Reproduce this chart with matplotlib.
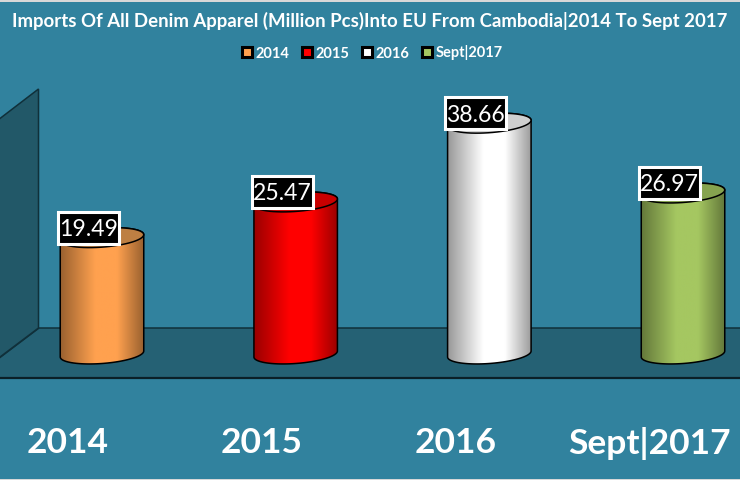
import numpy as np
import matplotlib
matplotlib.use('Agg')
import matplotlib.pyplot as plt
from matplotlib.colors import LinearSegmentedColormap
from matplotlib.lines import Line2D
from matplotlib.patches import Polygon, Rectangle

years = ['2014', '2015', '2016', 'Sept|2017']
values = [19.49, 25.47, 38.66, 26.97]
labels = ['19.49', '25.47', '38.66', '26.97']
colors = ['#FFA14F', '#FF0000', '#FFFFFF', '#A5C761']
top_colors = ['#BD7F43', '#C80000', '#CFCFCF', '#86A34F']
title = 'Imports Of All Denim Apparel (Million Pcs)Into EU From Cambodia|2014 To Sept 2017'

BG = '#31829E'
W, H = 740, 480
PX_X = 193.67   # pixels per category
PX_Y = 5.97     # pixels per million pcs

plt.rcParams['font.family'] = ['Lato', 'DejaVu Sans']
plt.rcParams['font.weight'] = 'bold'

fig = plt.figure(figsize=(7.4, 4.8), dpi=100, facecolor=BG)
ax = fig.add_axes([0, (H - 378) / H, 1, 378 / H])
ax.set_facecolor(BG)
ax.set_xlim(-102 / PX_X, (W - 102) / PX_X)
ax.set_ylim((351 - 378) / PX_Y, 351 / PX_Y)


def px(x, y):
    return (x / W, 1 - y / H)


#%% floor and side wall, positioned in pixels
floor = Polygon([px(38.5, 328), px(742, 328), px(742, 378), px(-2, 378), px(-2, 358.5)],
                transform=fig.transFigure, fc='#256174', ec='#10303a', lw=1.1, zorder=1)
wall = Polygon([px(-2, 120), px(38.5, 89), px(38.5, 328), px(-2, 358.5)],
               transform=fig.transFigure, fc='#225868', ec='#10303a', lw=1.1, zorder=1)
ax.add_patch(floor)
ax.add_patch(wall)


#%% cylinders
half_w = 41.75 / PX_X
b = 9.5 / PX_Y
tilt = 3.0 / PX_Y


def arc(cy, center, t0, t1):
    t = np.linspace(t0, t1, 60)
    return np.column_stack([center + half_w * np.cos(t), cy + tilt * np.cos(t) + b * np.sin(t)])


x = np.arange(len(values))
for i, v in enumerate(values):
    lower = arc(-tilt, x[i], 0, -np.pi)
    upper = arc(v - tilt, x[i], np.pi, 0)
    body = Polygon(np.vstack([lower, upper]), closed=True, fc='none', ec='black', lw=1.1, zorder=3)
    ax.add_patch(body)

    dark = tuple(c * 0.6 for c in matplotlib.colors.to_rgb(colors[i]))
    cmap = LinearSegmentedColormap.from_list(
        'cyl', [(0, dark), (0.42, colors[i]), (0.68, colors[i]), (1, dark)])
    grad = np.linspace(0, 1, 256).reshape(1, -1)
    im = ax.imshow(grad, cmap=cmap, aspect='auto', zorder=2.5, vmin=0, vmax=1,
                   extent=[x[i] - half_w, x[i] + half_w, -5, v + 5])
    im.set_clip_path(body)

    cap = Polygon(arc(v - tilt, x[i], 0, 2 * np.pi), closed=True,
                  fc=top_colors[i], ec='black', lw=1.1, zorder=4)
    ax.add_patch(cap)

    # value label: black box with white border, up and left of the cap
    lx = x[i] - 13.5 / PX_X
    ly = v + 7 / PX_Y
    ax.add_patch(Rectangle((lx - 30.5 / PX_X, ly - 16 / PX_Y), 61 / PX_X, 32 / PX_Y,
                           fc='black', ec='white', lw=2.2, zorder=5))
    ax.text(lx, ly, labels[i], ha='center', va='center_baseline',
            fontsize=16.6, fontweight='normal', color='white', zorder=6)

ax.set_xlim(-102 / PX_X, (W - 102) / PX_X)
ax.set_ylim((351 - 378) / PX_Y, 351 / PX_Y)


#%% axes dressing
ax.set_xticks(x - 34 / PX_X)
ax.set_xticklabels(years, fontsize=25.5, fontweight='bold', color='white')
ax.tick_params(axis='x', length=0, pad=35)
ax.set_yticks([])
for s in ['top', 'left', 'right']:
    ax.spines[s].set_visible(False)
ax.spines['bottom'].set_color('#0b2028')
ax.spines['bottom'].set_linewidth(1.6)

fig.text(369.5 / W, 1 - 21 / H, title, ha='center', va='center',
         fontsize=13.45, fontweight='bold', color='white')

handles = [Line2D([], [], ls='none', marker='s', ms=7, mfc=c, mec='black', mew=2.2) for c in colors]
fig.legend(handles, years, loc='center', bbox_to_anchor=(370.5 / W, 1 - 53 / H), ncol=4,
           frameon=False, fontsize=10.5, labelcolor='white', handletextpad=0.0,
           columnspacing=0.58, handlelength=1.2)

# light screenshot edge
fig.add_artist(Rectangle((0, 1 - 1.5 / H), 1, 1.5 / H, transform=fig.transFigure, fc='#D8D8D8', ec='none'))
fig.add_artist(Rectangle((0, 0), 1, 1.5 / H, transform=fig.transFigure, fc='#D8D8D8', ec='none'))

fig.savefig('out.png', dpi=100, facecolor=BG)
